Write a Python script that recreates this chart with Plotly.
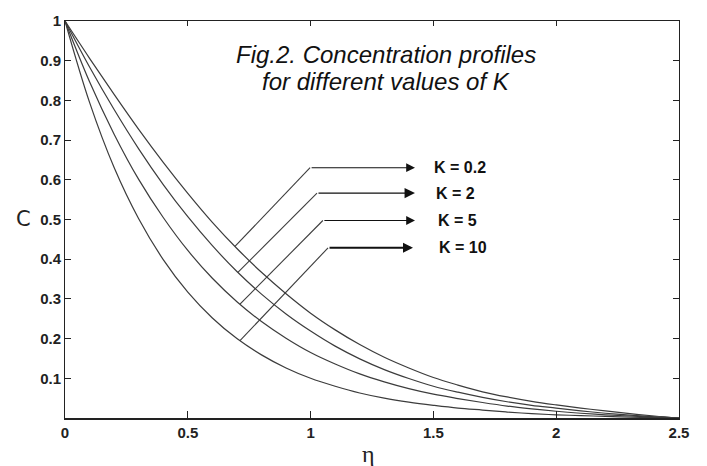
import numpy as np
import plotly.graph_objects as go

# Dimensionless distance from the plate
eta = [0.0, 0.1, 0.2, 0.3, 0.4, 0.5, 0.6, 0.7, 0.8, 0.9, 1.0, 1.1, 1.2,
       1.3, 1.4, 1.5, 1.6, 1.7, 1.8, 1.9, 2.0, 2.1, 2.2, 2.3, 2.4, 2.5]

# Concentration C(eta) for each value of the reaction parameter K
c_k02 = [1.000, 0.906, 0.815, 0.727, 0.644, 0.566, 0.493, 0.427, 0.367, 0.313,
         0.264, 0.222, 0.185, 0.153, 0.126, 0.102, 0.083, 0.066, 0.053, 0.042,
         0.033, 0.025, 0.018, 0.011, 0.005, 0.0]
c_k2 = [1.000, 0.884, 0.777, 0.678, 0.588, 0.507, 0.434, 0.369, 0.312, 0.262,
        0.219, 0.181, 0.149, 0.122, 0.0995, 0.080, 0.065, 0.052, 0.041, 0.032,
        0.025, 0.018, 0.012, 0.007, 0.003, 0.0]
c_k5 = [1.000, 0.847, 0.715, 0.601, 0.505, 0.422, 0.352, 0.293, 0.243, 0.201,
        0.165, 0.136, 0.111, 0.091, 0.074, 0.060, 0.049, 0.039, 0.030, 0.023,
        0.017, 0.012, 0.008, 0.005, 0.002, 0.0]
c_k10 = [1.000, 0.795, 0.631, 0.502, 0.399, 0.317, 0.252, 0.200, 0.159, 0.126,
         0.100, 0.080, 0.063, 0.050, 0.040, 0.032, 0.025, 0.020, 0.015, 0.011,
         0.008, 0.006, 0.004, 0.002, 0.001, 0.0]

series = [("K = 0.2", c_k02), ("K = 2", c_k2), ("K = 5", c_k5), ("K = 10", c_k10)]

# Leader lines: eta where each leader leaves its curve, elbow point, arrow tip
leader_start_eta = [0.692, 0.704, 0.7125, 0.7125]
leader_elbow_eta = [0.998, 1.026, 1.050, 1.071]
leader_level_c = [0.6305, 0.5665, 0.4975, 0.4286]
arrow_tip_eta = [1.425, 1.425, 1.425, 1.417]
label_eta = [1.493, 1.501, 1.509, 1.513]
arrow_widths = [1.1, 1.3, 1.1, 2.0]

x_ticks = [0, 0.5, 1, 1.5, 2, 2.5]
x_ticktext = ["0", "0.5", "1", "1.5", "2", "2.5"]
y_ticks = [0.1, 0.2, 0.3, 0.4, 0.5, 0.6, 0.7, 0.8, 0.9, 1.0]
y_ticktext = ["0.1", "0.2", "0.3", "0.4", "0.5", "0.6", "0.7", "0.8", "0.9", "1"]

LINE = "#3c3c3c"
INK = "#222222"

fig = go.Figure()

for name, c in series:
    fig.add_trace(go.Scatter(x=eta, y=c, mode="lines", name=name,
                             line=dict(color=LINE, width=1.2, shape="spline", smoothing=1.0),
                             showlegend=False, hoverinfo="skip"))

label_font = dict(family="Liberation Sans, Arial", size=16, color="#111111", weight="bold")

for (name, c), x0, xe, ye, xt, xl, aw in zip(series, leader_start_eta, leader_elbow_eta,
                                             leader_level_c, arrow_tip_eta, label_eta,
                                             arrow_widths):
    y0 = float(np.interp(x0, eta, c))
    fig.add_trace(go.Scatter(x=[x0, xe], y=[y0, ye], mode="lines",
                             line=dict(color=LINE, width=1.1),
                             showlegend=False, hoverinfo="skip"))
    fig.add_annotation(x=xt, y=ye, ax=xe, ay=ye, xref="x", yref="y",
                       axref="x", ayref="y", text="", showarrow=True,
                       arrowhead=2, arrowsize=1.6 if aw < 1.5 else 1.0,
                       arrowwidth=aw, arrowcolor="#111111")
    fig.add_annotation(x=xl, y=ye, xref="x", yref="y", text=name,
                       showarrow=False, xanchor="left", yanchor="middle",
                       font=label_font)

title_font = dict(family="Liberation Sans, Arial", size=24, color="#111111",
                  style="italic")
fig.add_annotation(x=0.5228, y=0.916, xref="paper", yref="paper",
                   text="Fig.2. Concentration profiles", showarrow=False,
                   xanchor="center", yanchor="middle", font=title_font)
fig.add_annotation(x=0.5228, y=0.847, xref="paper", yref="paper",
                   text="for different values of K", showarrow=False,
                   xanchor="center", yanchor="middle", font=title_font)

# Axis titles
fig.add_annotation(x=-0.0668, y=0.502, xref="paper", yref="paper", text="C",
                   showarrow=False, xanchor="center", yanchor="middle",
                   font=dict(family="DejaVu Sans", size=21, color=INK))
fig.add_annotation(x=0.4935, y=-0.091, xref="paper", yref="paper", text="η",
                   showarrow=False, xanchor="center", yanchor="middle",
                   font=dict(family="Liberation Serif, Times New Roman", size=24, color=INK))

tick_font = dict(family="Liberation Sans, Arial", size=15, color=INK, weight="bold")

fig.update_layout(
    width=707, height=466,
    margin=dict(l=65, r=28, t=12, b=48),
    paper_bgcolor="white", plot_bgcolor="white",
    xaxis=dict(range=[0, 2.5], tickvals=x_ticks, ticktext=x_ticktext,
               ticks="inside", ticklen=7, tickwidth=1, tickcolor=INK,
               showline=True, linewidth=2.2, linecolor=INK, mirror=False,
               showgrid=False, zeroline=False, tickfont=tick_font),
    xaxis2=dict(range=[0, 2.5], overlaying="x", side="top", tickvals=x_ticks,
                showticklabels=False, ticks="inside", ticklen=5, tickwidth=1,
                tickcolor=INK, showline=True, linewidth=1, linecolor=INK,
                showgrid=False, zeroline=False),
    yaxis=dict(range=[0, 1], tickvals=y_ticks, ticktext=y_ticktext,
               ticks="inside", ticklen=6, tickwidth=1, tickcolor=INK,
               showline=True, linewidth=1, linecolor=INK, mirror="ticks",
               showgrid=False, zeroline=False, tickfont=tick_font),
)

# Invisible trace that activates the top axis
fig.add_trace(go.Scatter(x=[0, 2.5], y=[0, 0], xaxis="x2", mode="lines",
                         line=dict(width=0), showlegend=False, hoverinfo="skip"))

fig.write_html("out.html")
